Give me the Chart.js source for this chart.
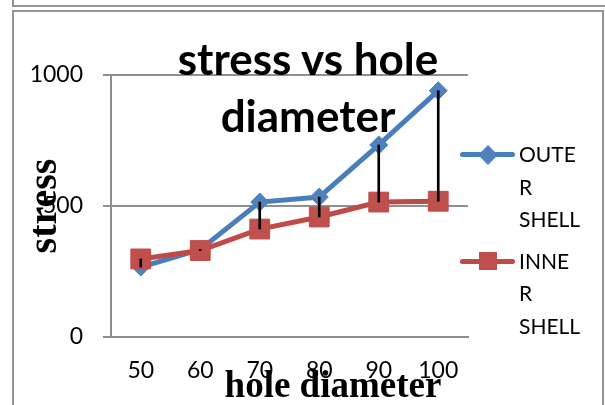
<!DOCTYPE html>
<html lang="en">
<head>
<meta charset="UTF-8">
<title>stress vs hole diameter</title>
<script src="https://cdn.jsdelivr.net/npm/chart.js@4"></script>
<style>
  body { margin:0; background:#fff; font-family:'Lato',sans-serif; }
  #wrap { position:relative; width:605px; height:405px; overflow:hidden; }
  .frame-prev { position:absolute; left:12px; top:-20px; width:640px; height:23px; border:2px solid #939393; }
  .frame { position:absolute; left:12px; top:10px; width:588px; height:430px; border:2px solid #939393; }
  #chart { position:absolute; left:0; top:0; }
  .title { position:absolute; left:12px; width:592px; top:30px; text-align:center; font:bold 44px/57px 'Lato',sans-serif; color:#000; }
  .xtitle { position:absolute; left:183px; width:300px; top:366px; text-align:center; font:bold 37px/37px 'Liberation Serif',serif; color:#000; }
  #legend { position:absolute; left:460px; top:138px; }
  .item { position:relative; padding-left:59px; margin-bottom:9px; font:21px/32.5px 'Lato',sans-serif; color:#000; }
  .lbl { display:block; width:62px; overflow-wrap:anywhere; }
  .swatch { position:absolute; left:0; top:14px; width:55px; height:5px; border-radius:3px; }
  .mark { position:absolute; left:50%; top:50%; }
  .mark.rectRot { width:14px; height:14px; transform:translate(-50%,-50%) rotate(45deg); }
  .mark.rect { width:18px; height:18px; transform:translate(-50%,-50%); }
</style>
</head>
<body>
<div id="wrap">
  <div class="frame-prev"></div>
  <div class="frame"></div>
  <canvas id="chart" width="605" height="405"></canvas>
  <div class="title">stress vs hole<br>diameter</div>
  <div class="xtitle">hole diameter</div>
  <div id="legend"></div>
</div>
<script>
const diameters = ['50', '60', '70', '80', '90', '100'];
const outerShell = [267, 334, 515, 534, 733, 940];
const innerShell = [298, 330, 412, 458, 515, 518];
const stressTicks = [0, 500, 1000];
const seriesNames = ['OUTER SHELL', 'INNER SHELL'];

// black high-low lines between the two series
const hiLo = diameters.map((_, i) => [Math.min(outerShell[i], innerShell[i]), Math.max(outerShell[i], innerShell[i])]);

const gridGray = '#8f8f8f';
const tickFont = { family: 'Lato', size: 23 };

const chart = new Chart(document.getElementById('chart'), {
  type: 'line',
  data: {
    labels: diameters,
    datasets: [
      { label: seriesNames[0], data: outerShell, borderColor: '#4A7EBB', borderWidth: 5,
        pointStyle: 'rectRot', pointRadius: 9, pointBorderWidth: 1,
        pointBackgroundColor: '#4F81BD', pointBorderColor: '#4A7EBB', tension: 0, order: 2 },
      { label: seriesNames[1], data: innerShell, borderColor: '#BE4B48', borderWidth: 5,
        pointStyle: 'rect', pointRadius: 14, pointBorderWidth: 1,
        pointBackgroundColor: '#C0504D', pointBorderColor: '#BE4B48', tension: 0, order: 1 },
      { type: 'bar', label: 'hi-lo', data: hiLo, backgroundColor: '#000', barThickness: 2, order: 0 }
    ]
  },
  options: {
    responsive: false,
    animation: false,
    layout: { padding: { top: 75, right: 137, bottom: 0, left: 0 } },
    plugins: { legend: { display: false }, tooltip: { enabled: false } },
    scales: {
      x: {
        offset: true,
        grid: { display: false, drawTicks: false },
        border: { display: true, color: gridGray, width: 2 },
        ticks: { color: '#000', font: tickFont, padding: 20 },
        afterFit: s => { s.height = 68; }
      },
      y: {
        min: 0, max: 1000,
        afterBuildTicks: s => { s.ticks = stressTicks.map(v => ({ value: v })); },
        grid: { color: gridGray, lineWidth: 2, tickLength: 8 },
        border: { color: gridGray, width: 2 },
        ticks: { color: '#000', font: tickFont, padding: 20, callback: v => String(v) },
        title: { display: true, text: 'stress', color: '#000',
          font: { family: 'Liberation Serif', size: 40, weight: 'bold', lineHeight: 1 },
          padding: { top: 26, bottom: 0 } },
        afterFit: s => { s.width = 111; }
      }
    }
  }
});

// legend built from the line datasets
const legend = document.getElementById('legend');
chart.data.datasets.filter(d => d.type !== 'bar').forEach(d => {
  legend.insertAdjacentHTML('beforeend',
    `<div class="item"><span class="swatch" style="background:${d.borderColor}">` +
    `<span class="mark ${d.pointStyle}" style="background:${d.pointBackgroundColor}"></span></span>` +
    `<span class="lbl">${d.label}</span></div>`);
});
</script>
</body>
</html>
